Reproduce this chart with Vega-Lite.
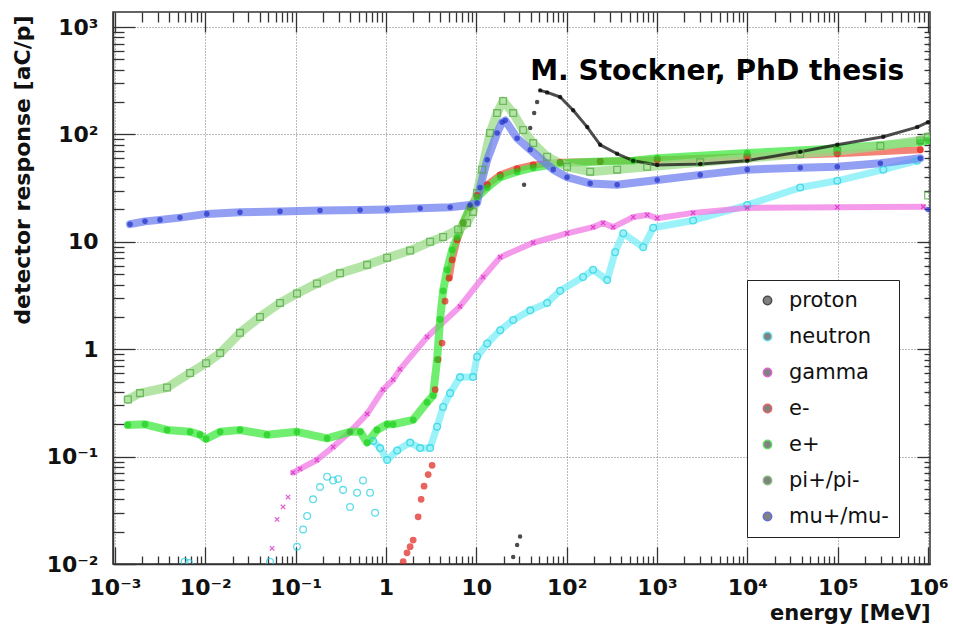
{
  "$schema": "https://vega.github.io/schema/vega-lite/v6.json",
  "width": 817,
  "height": 552,
  "autosize": {"type": "none"},
  "padding": {"left": 113, "top": 12, "right": 23, "bottom": 69},
  "background": "white",
  "config": {"view": {"stroke": "#333333", "strokeWidth": 1.5}, "font": "DejaVu Sans"},
  "datasets": {
    "curves": [
      {"p":"neutron","E":0.0059,"R":0.0105,"seg":"t"},
      {"p":"neutron","E":0.0066,"R":0.0102,"seg":"t"},
      {"p":"neutron","E":0.052,"R":0.0105,"seg":"t"},
      {"p":"neutron","E":0.1035,"R":0.0145,"seg":"t"},
      {"p":"neutron","E":0.121,"R":0.021,"seg":"t"},
      {"p":"neutron","E":0.134,"R":0.028,"seg":"t"},
      {"p":"neutron","E":0.156,"R":0.04,"seg":"t"},
      {"p":"neutron","E":0.186,"R":0.052,"seg":"t"},
      {"p":"neutron","E":0.223,"R":0.065,"seg":"t"},
      {"p":"neutron","E":0.26,"R":0.06,"seg":"t"},
      {"p":"neutron","E":0.295,"R":0.062,"seg":"t"},
      {"p":"neutron","E":0.335,"R":0.049,"seg":"t"},
      {"p":"neutron","E":0.4,"R":0.034,"seg":"t"},
      {"p":"neutron","E":0.479,"R":0.046,"seg":"t"},
      {"p":"neutron","E":0.557,"R":0.06,"seg":"t"},
      {"p":"neutron","E":0.667,"R":0.046,"seg":"t"},
      {"p":"neutron","E":0.757,"R":0.03,"seg":"t"},
      {"p":"neutron","E":0.72,"R":0.14,"seg":"m"},
      {"p":"neutron","E":0.861,"R":0.12,"seg":"m"},
      {"p":"neutron","E":1.03,"R":0.093,"seg":"m"},
      {"p":"neutron","E":1.33,"R":0.114,"seg":"m"},
      {"p":"neutron","E":1.85,"R":0.135,"seg":"m"},
      {"p":"neutron","E":2.39,"R":0.12,"seg":"m"},
      {"p":"neutron","E":3.08,"R":0.12,"seg":"m"},
      {"p":"neutron","E":3.68,"R":0.19,"seg":"m"},
      {"p":"neutron","E":4.29,"R":0.29,"seg":"m"},
      {"p":"neutron","E":5.13,"R":0.39,"seg":"m"},
      {"p":"neutron","E":6.6,"R":0.55,"seg":"m"},
      {"p":"neutron","E":9.2,"R":0.55,"seg":"m"},
      {"p":"neutron","E":10.2,"R":0.85,"seg":"m"},
      {"p":"neutron","E":13.2,"R":1.13,"seg":"m"},
      {"p":"neutron","E":18.4,"R":1.5,"seg":"m"},
      {"p":"neutron","E":25.6,"R":1.87,"seg":"m"},
      {"p":"neutron","E":39.5,"R":2.3,"seg":"m"},
      {"p":"neutron","E":60.8,"R":2.7,"seg":"m"},
      {"p":"neutron","E":84.7,"R":3.5,"seg":"m"},
      {"p":"neutron","E":152,"R":4.7,"seg":"m"},
      {"p":"neutron","E":196,"R":5.5,"seg":"m"},
      {"p":"neutron","E":281,"R":4.4,"seg":"m"},
      {"p":"neutron","E":344,"R":8,"seg":"m"},
      {"p":"neutron","E":423,"R":12,"seg":"m"},
      {"p":"neutron","E":703,"R":8.9,"seg":"m"},
      {"p":"neutron","E":908,"R":13.5,"seg":"m"},
      {"p":"neutron","E":2510,"R":15.8,"seg":"m"},
      {"p":"neutron","E":9970,"R":22,"seg":"m"},
      {"p":"neutron","E":38500,"R":32,"seg":"m"},
      {"p":"neutron","E":99000,"R":37,"seg":"m"},
      {"p":"neutron","E":320000,"R":47,"seg":"m"},
      {"p":"neutron","E":760000,"R":57,"seg":"m"},

      {"p":"gamma","E":0.0548,"R":0.014,"seg":"t"},
      {"p":"gamma","E":0.0623,"R":0.026,"seg":"t"},
      {"p":"gamma","E":0.0725,"R":0.034,"seg":"t"},
      {"p":"gamma","E":0.0824,"R":0.042,"seg":"t"},
      {"p":"gamma","E":0.0936,"R":0.071,"seg":"m"},
      {"p":"gamma","E":0.112,"R":0.077,"seg":"m"},
      {"p":"gamma","E":0.172,"R":0.093,"seg":"m"},
      {"p":"gamma","E":0.26,"R":0.123,"seg":"m"},
      {"p":"gamma","E":0.4,"R":0.17,"seg":"m"},
      {"p":"gamma","E":0.618,"R":0.25,"seg":"m"},
      {"p":"gamma","E":0.929,"R":0.42,"seg":"m"},
      {"p":"gamma","E":1.2,"R":0.52,"seg":"m"},
      {"p":"gamma","E":1.43,"R":0.65,"seg":"m"},
      {"p":"gamma","E":2.85,"R":1.3,"seg":"m"},
      {"p":"gamma","E":6.6,"R":2.5,"seg":"m"},
      {"p":"gamma","E":11.9,"R":4.7,"seg":"m"},
      {"p":"gamma","E":18.4,"R":7.2,"seg":"m"},
      {"p":"gamma","E":42.6,"R":9.8,"seg":"m"},
      {"p":"gamma","E":101,"R":12,"seg":"m"},
      {"p":"gamma","E":196,"R":13.7,"seg":"m"},
      {"p":"gamma","E":253,"R":15,"seg":"m"},
      {"p":"gamma","E":327,"R":13.7,"seg":"m"},
      {"p":"gamma","E":545,"R":17,"seg":"m"},
      {"p":"gamma","E":778,"R":17.8,"seg":"m"},
      {"p":"gamma","E":1005,"R":16.6,"seg":"m"},
      {"p":"gamma","E":2510,"R":18.6,"seg":"m"},
      {"p":"gamma","E":9970,"R":20.7,"seg":"m"},
      {"p":"gamma","E":99000,"R":21,"seg":"m"},
      {"p":"gamma","E":887000,"R":21.2,"seg":"m"},

      {"p":"e-","E":1.55,"R":0.0105,"seg":"t"},
      {"p":"e-","E":1.71,"R":0.0127,"seg":"t"},
      {"p":"e-","E":1.85,"R":0.0145,"seg":"t"},
      {"p":"e-","E":2.0,"R":0.0167,"seg":"t"},
      {"p":"e-","E":2.27,"R":0.0275,"seg":"t"},
      {"p":"e-","E":2.45,"R":0.04,"seg":"t"},
      {"p":"e-","E":2.64,"R":0.053,"seg":"t"},
      {"p":"e-","E":2.93,"R":0.068,"seg":"t"},
      {"p":"e-","E":3.24,"R":0.083,"seg":"t"},
      {"p":"e-","E":3.5,"R":0.42,"seg":"t"},
      {"p":"e-","E":3.78,"R":0.8,"seg":"t"},
      {"p":"e-","E":4.18,"R":1.14,"seg":"t"},
      {"p":"e-","E":4.51,"R":2.8,"seg":"t"},
      {"p":"e-","E":5.0,"R":4.6,"seg":"m"},
      {"p":"e-","E":5.4,"R":6.8,"seg":"m"},
      {"p":"e-","E":6.13,"R":10.4,"seg":"m"},
      {"p":"e-","E":7.14,"R":15,"seg":"m"},
      {"p":"e-","E":8.53,"R":21,"seg":"m"},
      {"p":"e-","E":10.2,"R":27,"seg":"m"},
      {"p":"e-","E":13.2,"R":34,"seg":"m"},
      {"p":"e-","E":18.4,"R":42,"seg":"m"},
      {"p":"e-","E":28.3,"R":48,"seg":"m"},
      {"p":"e-","E":42.6,"R":52,"seg":"m"},
      {"p":"e-","E":84.7,"R":55,"seg":"m"},
      {"p":"e-","E":235,"R":56,"seg":"m"},
      {"p":"e-","E":1005,"R":58,"seg":"m"},
      {"p":"e-","E":9970,"R":62,"seg":"m"},
      {"p":"e-","E":99000,"R":66,"seg":"m"},
      {"p":"e-","E":820000,"R":72,"seg":"m"},

      {"p":"e+","E":0.00139,"R":0.197,"seg":"m"},
      {"p":"e+","E":0.00215,"R":0.2,"seg":"m"},
      {"p":"e+","E":0.00377,"R":0.177,"seg":"m"},
      {"p":"e+","E":0.00678,"R":0.17,"seg":"m"},
      {"p":"e+","E":0.00873,"R":0.16,"seg":"m"},
      {"p":"e+","E":0.0102,"R":0.146,"seg":"m"},
      {"p":"e+","E":0.0146,"R":0.17,"seg":"m"},
      {"p":"e+","E":0.0242,"R":0.177,"seg":"m"},
      {"p":"e+","E":0.0482,"R":0.16,"seg":"m"},
      {"p":"e+","E":0.1035,"R":0.17,"seg":"m"},
      {"p":"e+","E":0.223,"R":0.148,"seg":"m"},
      {"p":"e+","E":0.4,"R":0.17,"seg":"m"},
      {"p":"e+","E":0.52,"R":0.17,"seg":"m"},
      {"p":"e+","E":0.618,"R":0.135,"seg":"m"},
      {"p":"e+","E":0.796,"R":0.177,"seg":"m"},
      {"p":"e+","E":1.03,"R":0.2,"seg":"m"},
      {"p":"e+","E":1.2,"R":0.2,"seg":"m"},
      {"p":"e+","E":2.0,"R":0.22,"seg":"m"},
      {"p":"e+","E":2.85,"R":0.32,"seg":"m"},
      {"p":"e+","E":3.32,"R":0.37,"seg":"m"},
      {"p":"e+","E":3.68,"R":0.8,"seg":"m"},
      {"p":"e+","E":3.97,"R":1.9,"seg":"m"},
      {"p":"e+","E":4.29,"R":3.5,"seg":"m"},
      {"p":"e+","E":4.75,"R":5.5,"seg":"m"},
      {"p":"e+","E":5.4,"R":8.4,"seg":"m"},
      {"p":"e+","E":6.13,"R":11,"seg":"m"},
      {"p":"e+","E":7.14,"R":15,"seg":"m"},
      {"p":"e+","E":8.53,"R":21,"seg":"m"},
      {"p":"e+","E":10.2,"R":26,"seg":"m"},
      {"p":"e+","E":13.2,"R":32,"seg":"m"},
      {"p":"e+","E":18.4,"R":40,"seg":"m"},
      {"p":"e+","E":28.3,"R":45,"seg":"m"},
      {"p":"e+","E":42.6,"R":49,"seg":"m"},
      {"p":"e+","E":84.7,"R":54,"seg":"m"},
      {"p":"e+","E":235,"R":56,"seg":"m"},
      {"p":"e+","E":545,"R":57,"seg":"m"},
      {"p":"e+","E":1005,"R":60,"seg":"m"},
      {"p":"e+","E":9970,"R":67,"seg":"m"},
      {"p":"e+","E":99000,"R":74,"seg":"m"},
      {"p":"e+","E":820000,"R":85,"seg":"m"},
      {"p":"e+","E":1000000,"R":88,"seg":"m"},

      {"p":"pi+/pi-","E":0.00139,"R":0.34,"seg":"m"},
      {"p":"pi+/pi-","E":0.00189,"R":0.39,"seg":"m"},
      {"p":"pi+/pi-","E":0.00377,"R":0.44,"seg":"m"},
      {"p":"pi+/pi-","E":0.00678,"R":0.6,"seg":"m"},
      {"p":"pi+/pi-","E":0.0102,"R":0.74,"seg":"m"},
      {"p":"pi+/pi-","E":0.0146,"R":0.92,"seg":"m"},
      {"p":"pi+/pi-","E":0.0242,"R":1.42,"seg":"m"},
      {"p":"pi+/pi-","E":0.0403,"R":2.0,"seg":"m"},
      {"p":"pi+/pi-","E":0.0671,"R":2.7,"seg":"m"},
      {"p":"pi+/pi-","E":0.1035,"R":3.3,"seg":"m"},
      {"p":"pi+/pi-","E":0.172,"R":4.1,"seg":"m"},
      {"p":"pi+/pi-","E":0.31,"R":5.1,"seg":"m"},
      {"p":"pi+/pi-","E":0.618,"R":6.1,"seg":"m"},
      {"p":"pi+/pi-","E":1.03,"R":7.1,"seg":"m"},
      {"p":"pi+/pi-","E":1.85,"R":8.3,"seg":"m"},
      {"p":"pi+/pi-","E":3.08,"R":10,"seg":"m"},
      {"p":"pi+/pi-","E":4.29,"R":11.1,"seg":"m"},
      {"p":"pi+/pi-","E":6.28,"R":13,"seg":"m"},
      {"p":"pi+/pi-","E":7.9,"R":15,"seg":"m"},
      {"p":"pi+/pi-","E":9.2,"R":19,"seg":"m"},
      {"p":"pi+/pi-","E":10.2,"R":28.5,"seg":"m"},
      {"p":"pi+/pi-","E":11.6,"R":47,"seg":"m"},
      {"p":"pi+/pi-","E":14.2,"R":103,"seg":"m"},
      {"p":"pi+/pi-","E":17,"R":158,"seg":"m"},
      {"p":"pi+/pi-","E":19.8,"R":205,"seg":"m"},
      {"p":"pi+/pi-","E":25.6,"R":158,"seg":"m"},
      {"p":"pi+/pi-","E":33,"R":110,"seg":"m"},
      {"p":"pi+/pi-","E":42.6,"R":83,"seg":"m"},
      {"p":"pi+/pi-","E":60.8,"R":62,"seg":"m"},
      {"p":"pi+/pi-","E":101,"R":50,"seg":"m"},
      {"p":"pi+/pi-","E":182,"R":45,"seg":"m"},
      {"p":"pi+/pi-","E":362,"R":47,"seg":"m"},
      {"p":"pi+/pi-","E":778,"R":50,"seg":"m"},
      {"p":"pi+/pi-","E":3010,"R":55,"seg":"m"},
      {"p":"pi+/pi-","E":9970,"R":60,"seg":"m"},
      {"p":"pi+/pi-","E":38500,"R":66,"seg":"m"},
      {"p":"pi+/pi-","E":99000,"R":70,"seg":"m"},
      {"p":"pi+/pi-","E":297000,"R":78,"seg":"m"},
      {"p":"pi+/pi-","E":820000,"R":88,"seg":"m"},
      {"p":"pi+/pi-","E":1000000,"R":95,"seg":"m"},
      {"p":"pi+/pi-","E":1000000,"R":27,"seg":"t"},

      {"p":"mu+/mu-","E":0.00147,"R":14.6,"seg":"m"},
      {"p":"mu+/mu-","E":0.00215,"R":15.5,"seg":"m"},
      {"p":"mu+/mu-","E":0.00315,"R":16,"seg":"m"},
      {"p":"mu+/mu-","E":0.00525,"R":16.8,"seg":"m"},
      {"p":"mu+/mu-","E":0.0104,"R":18.2,"seg":"m"},
      {"p":"mu+/mu-","E":0.0242,"R":18.8,"seg":"m"},
      {"p":"mu+/mu-","E":0.0671,"R":19.2,"seg":"m"},
      {"p":"mu+/mu-","E":0.186,"R":19.6,"seg":"m"},
      {"p":"mu+/mu-","E":0.516,"R":19.8,"seg":"m"},
      {"p":"mu+/mu-","E":1.03,"R":20,"seg":"m"},
      {"p":"mu+/mu-","E":2.39,"R":20.5,"seg":"m"},
      {"p":"mu+/mu-","E":5.13,"R":21,"seg":"m"},
      {"p":"mu+/mu-","E":8.53,"R":22,"seg":"m"},
      {"p":"mu+/mu-","E":10.2,"R":23,"seg":"m"},
      {"p":"mu+/mu-","E":11,"R":32,"seg":"m"},
      {"p":"mu+/mu-","E":13.2,"R":58,"seg":"m"},
      {"p":"mu+/mu-","E":17,"R":103,"seg":"m"},
      {"p":"mu+/mu-","E":19.3,"R":130,"seg":"m"},
      {"p":"mu+/mu-","E":20.9,"R":135,"seg":"m"},
      {"p":"mu+/mu-","E":28.3,"R":92,"seg":"m"},
      {"p":"mu+/mu-","E":39.5,"R":72,"seg":"m"},
      {"p":"mu+/mu-","E":71,"R":47,"seg":"m"},
      {"p":"mu+/mu-","E":101,"R":40,"seg":"m"},
      {"p":"mu+/mu-","E":182,"R":35,"seg":"m"},
      {"p":"mu+/mu-","E":362,"R":34,"seg":"m"},
      {"p":"mu+/mu-","E":1005,"R":37.6,"seg":"m"},
      {"p":"mu+/mu-","E":3010,"R":42,"seg":"m"},
      {"p":"mu+/mu-","E":9970,"R":47,"seg":"m"},
      {"p":"mu+/mu-","E":38500,"R":49,"seg":"m"},
      {"p":"mu+/mu-","E":99000,"R":50,"seg":"m"},
      {"p":"mu+/mu-","E":297000,"R":54,"seg":"m"},
      {"p":"mu+/mu-","E":820000,"R":60,"seg":"m"},
      {"p":"mu+/mu-","E":1000000,"R":20,"seg":"t"},

      {"p":"proton","E":25.6,"R":0.0116,"seg":"t"},
      {"p":"proton","E":28.3,"R":0.015,"seg":"t"},
      {"p":"proton","E":30.5,"R":0.018,"seg":"t"},
      {"p":"proton","E":33.8,"R":34,"seg":"t"},
      {"p":"proton","E":39.5,"R":115,"seg":"t"},
      {"p":"proton","E":43.7,"R":158,"seg":"t"},
      {"p":"proton","E":47.1,"R":200,"seg":"t"},
      {"p":"proton","E":50.9,"R":257,"seg":"m"},
      {"p":"proton","E":60.8,"R":246,"seg":"m"},
      {"p":"proton","E":84.7,"R":223,"seg":"m"},
      {"p":"proton","E":118,"R":168,"seg":"m"},
      {"p":"proton","E":169,"R":117,"seg":"m"},
      {"p":"proton","E":235,"R":80,"seg":"m"},
      {"p":"proton","E":362,"R":66,"seg":"m"},
      {"p":"proton","E":545,"R":57,"seg":"m"},
      {"p":"proton","E":1005,"R":52,"seg":"m"},
      {"p":"proton","E":3010,"R":53,"seg":"m"},
      {"p":"proton","E":9970,"R":57,"seg":"m"},
      {"p":"proton","E":38500,"R":69,"seg":"m"},
      {"p":"proton","E":99000,"R":80,"seg":"m"},
      {"p":"proton","E":320000,"R":95,"seg":"m"},
      {"p":"proton","E":760000,"R":117,"seg":"m"},
      {"p":"proton","E":1000000,"R":130,"seg":"m"}
    ],
    "note": [{"E": 39.5, "R": 321, "label": "M. Stockner, PhD thesis"}]
  },
  "layer": [
    {
      "data": {"name": "curves"},
      "transform": [{"filter": "datum.seg == 'm'"}],
      "mark": {"type": "line", "opacity": 0.75, "strokeCap": "round", "strokeJoin": "round", "clip": true},
      "encoding": {
        "x": {"field": "E", "type": "quantitative",
          "scale": {"type": "log", "domain": [0.000951, 1052000], "nice": false},
          "axis": {"orient": "bottom", "title": null, "labels": false, "grid": false, "domain": false,
            "values": [0.001,0.01,0.1,1,10,100,1000,10000,100000,1000000],
            "tickColor": "#333333", "tickWidth": 1.3, "tickSize": -17}},
        "y": {"field": "R", "type": "quantitative",
          "scale": {"type": "log", "domain": [0.01, 1380], "nice": false},
          "axis": {"orient": "left", "title": null, "labels": false, "grid": false, "domain": false,
            "values": [0.01,0.1,1,10,100,1000],
            "tickColor": "#333333", "tickWidth": 1.3, "tickSize": -22}},
        "stroke": {"field": "p", "type": "nominal", "legend": null,
          "scale": {"domain": ["proton","neutron","gamma","e-","e+","pi+/pi-","mu+/mu-"],
                    "range": ["#111111","#7aeef7","#f27ae6","#f05a4a","#3fe83f","#9bdc8a","#6f7fef"]}},
        "strokeWidth": {"field": "p", "type": "nominal", "legend": null,
          "scale": {"type": "ordinal", "domain": ["proton","neutron","gamma","e-","e+","pi+/pi-","mu+/mu-"],
                    "range": [3,7,6,7,8,9,8]}},
        "detail": {"field": "p"}
      }
    },
    {
      "data": {"name": "curves"},
      "mark": {"type": "point", "strokeWidth": 1.3, "clip": true},
      "encoding": {
        "x": {"field": "E", "type": "quantitative",
          "scale": {"type": "log", "domain": [0.000951, 1052000], "nice": false},
          "axis": {"orient": "bottom",
            "values": [0.001,0.01,0.1,1,10,100,1000,10000,100000,1000000],
            "labelExpr": "['10⁻³','10⁻²','10⁻¹','1','10','10²','10³','10⁴','10⁵','10⁶'][round(log(datum.value)/LN10)+3]",
            "labelFont": "DejaVu Sans", "labelFontWeight": "bold", "labelFontSize": 22, "labelColor": "#111111",
            "labelOverlap": false, "labelFlush": false, "labelPadding": 13, "labelBaseline": "top",
            "ticks": false,
            "grid": true, "gridColor": "#777777", "gridDash": [1, 2], "gridWidth": 1,
            "domainColor": "#333333", "domainWidth": 1.5,
            "title": "energy [MeV]", "titleFont": "DejaVu Sans", "titleFontWeight": "bold", "titleFontSize": 21, "titleColor": "#111111",
            "titleAlign": "right", "titleBaseline": "alphabetic", "titleX": 817, "titleY": 55}},
        "y": {"field": "R", "type": "quantitative",
          "scale": {"type": "log", "domain": [0.01, 1380], "nice": false},
          "axis": {"orient": "left",
            "values": [0.01,0.1,1,10,100,1000],
            "labelExpr": "['10⁻²','10⁻¹','1','10','10²','10³'][round(log(datum.value)/LN10)+2]",
            "labelFont": "DejaVu Sans", "labelFontWeight": "bold", "labelFontSize": 22, "labelColor": "#111111",
            "labelOverlap": false, "labelFlush": false, "labelPadding": 15,
            "ticks": false,
            "grid": true, "gridColor": "#777777", "gridDash": [1, 2], "gridWidth": 1,
            "domainColor": "#333333", "domainWidth": 1.5,
            "title": "detector response [aC/p]", "titleFont": "DejaVu Sans", "titleFontWeight": "bold", "titleFontSize": 22, "titleColor": "#111111",
            "titleAngle": -90, "titleAlign": "right", "titleBaseline": "middle", "titleX": -91, "titleY": 3}},
        "shape": {"field": "p", "type": "nominal",
          "scale": {"domain": ["proton","neutron","gamma","e-","e+","pi+/pi-","mu+/mu-"],
                    "range": ["circle","circle","M-0.8,-0.8L0.8,0.8M0.8,-0.8L-0.8,0.8","circle","circle","square","circle"]},
          "legend": {"title": null, "orient": "none", "legendX": 634, "legendY": 268, "fillColor": "white", "strokeColor": "#222222",
            "padding": 10, "rowPadding": 14, "labelFont": "DejaVu Sans", "labelFontSize": 21, "labelColor": "#111111",
            "labelOffset": 11, "symbolSize": 70, "symbolStrokeWidth": 1.5}},
        "fill": {"field": "p", "type": "nominal",
          "scale": {"domain": ["proton","neutron","gamma","e-","e+","pi+/pi-","mu+/mu-"],
                    "range": ["#000000","transparent","transparent","#e0221a","#1fcf1f","transparent","#2030c8"]},
          "legend": {"title": null, "orient": "none", "legendX": 634, "legendY": 268, "fillColor": "white", "strokeColor": "#222222",
            "padding": 10, "rowPadding": 14, "labelFont": "DejaVu Sans", "labelFontSize": 21, "labelColor": "#111111",
            "labelOffset": 11, "symbolSize": 70, "symbolStrokeWidth": 1.5}},
        "stroke": {"field": "p", "type": "nominal",
          "scale": {"domain": ["proton","neutron","gamma","e-","e+","pi+/pi-","mu+/mu-"],
                    "range": ["#000000","#22cfe0","#d81fc0","#e0221a","#1fcf1f","#4ea53e","#2030c8"]},
          "legend": {"title": null, "orient": "none", "legendX": 634, "legendY": 268, "fillColor": "white", "strokeColor": "#222222",
            "padding": 10, "rowPadding": 14, "labelFont": "DejaVu Sans", "labelFontSize": 21, "labelColor": "#111111",
            "labelOffset": 11, "symbolSize": 70, "symbolStrokeWidth": 1.5}},
        "size": {"field": "p", "type": "nominal", "legend": null,
          "scale": {"type": "ordinal", "domain": ["proton","neutron","gamma","e-","e+","pi+/pi-","mu+/mu-"],
                    "range": [10,45,30,30,30,45,18]}}
      }
    },
    {
      "data": {"name": "note"},
      "mark": {"type": "text", "align": "left", "baseline": "alphabetic", "font": "DejaVu Sans", "fontWeight": "bold", "fontSize": 28, "color": "#000000"},
      "encoding": {
        "x": {"field": "E", "type": "quantitative", "scale": {"type": "log", "domain": [0.000951, 1052000], "nice": false},
          "axis": {"orient": "bottom", "title": null, "labels": false, "grid": false, "domain": false,
            "values": [0.002,0.003,0.004,0.005,0.006,0.007,0.008,0.009,0.02,0.03,0.04,0.05,0.06,0.07,0.08,0.09,0.2,0.3,0.4,0.5,0.6,0.7,0.8,0.9,2,3,4,5,6,7,8,9,20,30,40,50,60,70,80,90,200,300,400,500,600,700,800,900,2000,3000,4000,5000,6000,7000,8000,9000,20000,30000,40000,50000,60000,70000,80000,90000,200000,300000,400000,500000,600000,700000,800000,900000],
            "tickColor": "#333333", "tickWidth": 1.3, "tickSize": -8}},
        "y": {"field": "R", "type": "quantitative", "scale": {"type": "log", "domain": [0.01, 1380], "nice": false},
          "axis": {"orient": "left", "title": null, "labels": false, "grid": false, "domain": false,
            "values": [0.02,0.03,0.04,0.05,0.06,0.07,0.08,0.09,0.2,0.3,0.4,0.5,0.6,0.7,0.8,0.9,2,3,4,5,6,7,8,9,20,30,40,50,60,70,80,90,200,300,400,500,600,700,800,900],
            "tickColor": "#333333", "tickWidth": 1.3, "tickSize": -11}},
        "text": {"field": "label"}
      }
    },
    {
      "data": {"name": "note"},
      "mark": {"type": "point", "opacity": 0},
      "encoding": {
        "x": {"field": "E", "type": "quantitative", "scale": {"type": "log", "domain": [0.000951, 1052000], "nice": false},
          "axis": {"orient": "top", "title": null, "labels": false, "grid": false, "domain": false,
            "values": [0.001,0.01,0.1,1,10,100,1000,10000,100000,1000000],
            "tickColor": "#333333", "tickWidth": 1.3, "tickSize": -20}},
        "y": {"field": "R", "type": "quantitative", "scale": {"type": "log", "domain": [0.01, 1380], "nice": false},
          "axis": {"orient": "right", "title": null, "labels": false, "grid": false, "domain": false,
            "values": [0.01,0.1,1,10,100,1000],
            "tickColor": "#333333", "tickWidth": 1.3, "tickSize": -13}}
      }
    },
    {
      "data": {"name": "note"},
      "mark": {"type": "point", "opacity": 0},
      "encoding": {
        "x": {"field": "E", "type": "quantitative", "scale": {"type": "log", "domain": [0.000951, 1052000], "nice": false},
          "axis": {"orient": "top", "title": null, "labels": false, "grid": false, "domain": false,
            "values": [0.002,0.003,0.004,0.005,0.006,0.007,0.008,0.009,0.02,0.03,0.04,0.05,0.06,0.07,0.08,0.09,0.2,0.3,0.4,0.5,0.6,0.7,0.8,0.9,2,3,4,5,6,7,8,9,20,30,40,50,60,70,80,90,200,300,400,500,600,700,800,900,2000,3000,4000,5000,6000,7000,8000,9000,20000,30000,40000,50000,60000,70000,80000,90000,200000,300000,400000,500000,600000,700000,800000,900000],
            "tickColor": "#333333", "tickWidth": 1.3, "tickSize": -10}},
        "y": {"field": "R", "type": "quantitative", "scale": {"type": "log", "domain": [0.01, 1380], "nice": false},
          "axis": {"orient": "right", "title": null, "labels": false, "grid": false, "domain": false,
            "values": [0.02,0.03,0.04,0.05,0.06,0.07,0.08,0.09,0.2,0.3,0.4,0.5,0.6,0.7,0.8,0.9,2,3,4,5,6,7,8,9,20,30,40,50,60,70,80,90,200,300,400,500,600,700,800,900],
            "tickColor": "#333333", "tickWidth": 1.3, "tickSize": -6}}
      }
    }
  ],
  "resolve": {"axis": {"x": "independent", "y": "independent"}, "scale": {"stroke": "independent"}}
}
